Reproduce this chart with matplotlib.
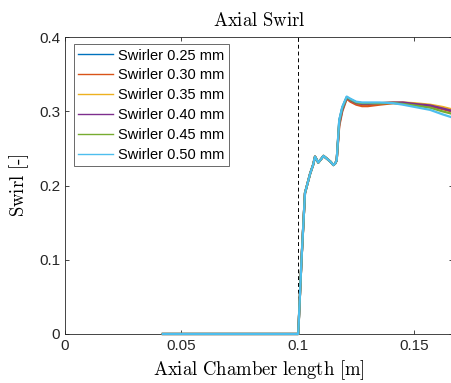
import numpy as np
import matplotlib.pyplot as plt

plt.rcParams['font.family'] = ['Liberation Sans', 'DejaVu Sans']
plt.rcParams['mathtext.fontset'] = 'cm'

# axial position [m] shared by all swirlers
x = [0.042, 0.0995, 0.1001, 0.1015, 0.1030, 0.1052, 0.1065, 0.1073, 0.1087,
     0.1100, 0.1109, 0.1125, 0.1140, 0.1152, 0.1160, 0.1166, 0.1177, 0.1190,
     0.1209, 0.1225, 0.1250, 0.1275, 0.1300, 0.1350, 0.1409, 0.1450, 0.1500,
     0.1567, 0.1620, 0.1670]

common = [0.0, 0.0, 0.0, 0.10, 0.190, 0.216, 0.228, 0.239, 0.231,
          0.236, 0.240, 0.236, 0.232, 0.2276, 0.230, 0.234]

swirl_025 = common + [0.288, 0.305, 0.319, 0.316, 0.312, 0.311, 0.311, 0.311, 0.3115, 0.311, 0.310, 0.308, 0.305, 0.301]
swirl_030 = common + [0.280, 0.300, 0.317, 0.313, 0.309, 0.307, 0.307, 0.309, 0.3110, 0.311, 0.310, 0.307, 0.303, 0.299]
swirl_035 = common + [0.284, 0.303, 0.318, 0.315, 0.311, 0.310, 0.310, 0.311, 0.3120, 0.312, 0.311, 0.309, 0.306, 0.302]
swirl_040 = common + [0.283, 0.302, 0.318, 0.315, 0.311, 0.310, 0.310, 0.311, 0.3118, 0.312, 0.310, 0.308, 0.304, 0.300]
swirl_045 = common + [0.286, 0.304, 0.319, 0.316, 0.312, 0.311, 0.311, 0.311, 0.3112, 0.310, 0.308, 0.305, 0.300, 0.296]
swirl_050 = common + [0.288, 0.306, 0.320, 0.317, 0.313, 0.312, 0.312, 0.312, 0.3110, 0.309, 0.306, 0.302, 0.296, 0.291]

labels = ['Swirler 0.25 mm', 'Swirler 0.30 mm', 'Swirler 0.35 mm',
          'Swirler 0.40 mm', 'Swirler 0.45 mm', 'Swirler 0.50 mm']
colors = ['#0072BD', '#D95319', '#EDB120', '#7E2F8E', '#77AC30', '#4DBEEE']
series = [swirl_025, swirl_030, swirl_035, swirl_040, swirl_045, swirl_050]

fig = plt.figure(figsize=(4.52, 3.83), dpi=100)
# right edge of the axes sits just past the figure edge
ax = fig.add_axes([65 / 452, 0.128, 388 / 452, 0.775])

for y, c, lab in zip(series, colors, labels):
    ax.plot(x, y, color=c, lw=1.6, label=lab, clip_on=False, zorder=3)

ax.axvline(0.1, color='k', ls='--', lw=0.7, dashes=(4, 3))

ax.set_xlim(0, 388 / 2330)
ax.set_ylim(0, 0.4)
ax.set_xticks([0, 0.05, 0.1, 0.15])
ax.set_xticklabels(['0', '0.05', '0.1', '0.15'])
ax.set_yticks([0, 0.1, 0.2, 0.3, 0.4])
ax.set_yticklabels(['0', '0.1', '0.2', '0.3', '0.4'])
ax.tick_params(direction='in', top=True, right=True, labelsize=11,
               colors='#262626', length=3, width=0.6)
for s in ax.spines.values():
    s.set_color('#262626')
    s.set_linewidth(0.6)

ax.set_title(r'$\mathrm{Axial\ Swirl}$', fontsize=13.5, pad=8)
ax.set_xlabel(r'$\mathrm{Axial\ Chamber\ length\ [m]}$', fontsize=13.5, labelpad=4)
ax.set_ylabel(r'$\mathrm{Swirl\ [\text{-}]}$', fontsize=13.5, labelpad=6)

leg = ax.legend(loc='upper left', bbox_to_anchor=(9 / 388, 1 - 7 / 297), fontsize=10.5,
                frameon=True, fancybox=False, edgecolor='#262626',
                handlelength=2.4, handletextpad=0.35, labelspacing=0.4,
                borderpad=0.3, borderaxespad=0)
leg.get_frame().set_linewidth(0.6)
leg.set_zorder(5)
for h in leg.get_lines():
    h.set_linewidth(1.0)

fig.savefig('out.png', dpi=100)
